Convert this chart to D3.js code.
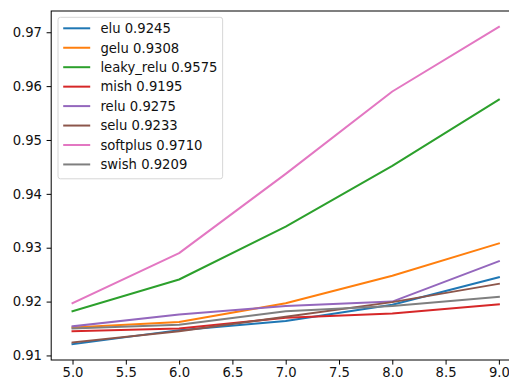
<!DOCTYPE html>
<html>
<head>
<meta charset="utf-8">
<script src="https://cdn.jsdelivr.net/npm/d3@7"></script>
<style>
  html, body { margin: 0; padding: 0; background: #fff; overflow: hidden; }
  svg { display: block; font-family: "DejaVu Sans", sans-serif; }
</style>
</head>
<body>
<svg id="chart" width="509" height="381"></svg>
<script>
// Epoch steps on the x axis
const epochs = [5, 6, 7, 8, 9];

// Accuracy per activation function
const names = ["elu", "gelu", "leaky_relu", "mish", "relu", "selu", "softplus", "swish"];
const elu       = [0.9121, 0.9147, 0.9164, 0.9194, 0.9245];
const gelu      = [0.9152, 0.9162, 0.9197, 0.9248, 0.9308];
const leakyRelu = [0.9182, 0.9241, 0.9339, 0.9452, 0.9575];
const mish      = [0.9145, 0.9150, 0.9170, 0.9178, 0.9195];
const relu      = [0.9154, 0.9176, 0.9192, 0.9200, 0.9275];
const selu      = [0.9124, 0.9145, 0.9172, 0.9199, 0.9233];
const softplus  = [0.9197, 0.9290, 0.9437, 0.9590, 0.9710];
const swish     = [0.9150, 0.9157, 0.9182, 0.9192, 0.9209];

const colors = ["#1f77b4", "#ff7f0e", "#2ca02c", "#d62728", "#9467bd", "#8c564b", "#e377c2", "#7f7f7f"];

// Tick values
const xTicks = [5.0, 5.5, 6.0, 6.5, 7.0, 7.5, 8.0, 8.5, 9.0];
const yTicks = [0.91, 0.92, 0.93, 0.94, 0.95, 0.96, 0.97];

const seriesValues = [elu, gelu, leakyRelu, mish, relu, selu, softplus, swish];
const series = names.map((n, i) => ({
  name: n,
  color: colors[i],
  values: seriesValues[i],
  last: seriesValues[i][seriesValues[i].length - 1]
}));

const svg = d3.select("#chart");
const plot = { left: 51.2, top: 11, width: 469, height: 349 };

// Axis limits padded by 5% of the data span on each side
const xMin = d3.min(epochs), xMax = d3.max(epochs);
const xPad = (xMax - xMin) * 0.05;
const allVals = seriesValues.flat();
const yMin = d3.min(allVals), yMax = d3.max(allVals);
const yPad = (yMax - yMin) * 0.05;

const x = d3.scaleLinear()
  .domain([xMin - xPad, xMax + xPad])
  .range([plot.left, plot.left + plot.width]);
const y = d3.scaleLinear()
  .domain([yMin - yPad, yMax + yPad])
  .range([plot.top + plot.height, plot.top]);

const fontSize = 13.2;

// Axes
const xAxis = svg.append("g")
  .attr("transform", `translate(0,${plot.top + plot.height})`)
  .call(d3.axisBottom(x).tickValues(xTicks).tickFormat(d3.format(".1f"))
    .tickSizeInner(4.6).tickSizeOuter(0).tickPadding(3.2));
const yAxis = svg.append("g")
  .attr("transform", `translate(${plot.left},0)`)
  .call(d3.axisLeft(y).tickValues(yTicks).tickFormat(d3.format(".2f"))
    .tickSizeInner(4.6).tickSizeOuter(0).tickPadding(4.6));

[xAxis, yAxis].forEach(g => {
  g.select(".domain").remove();
  g.selectAll("line").attr("stroke", "#000").attr("stroke-width", 1);
  g.selectAll("text")
    .attr("fill", "#111")
    .style("font-family", "'DejaVu Sans', sans-serif")
    .style("font-size", fontSize + "px");
});

// Lines
const line = d3.line()
  .x((d, i) => x(epochs[i]))
  .y(d => y(d));

svg.append("g")
  .selectAll("path")
  .data(series)
  .join("path")
  .attr("d", d => line(d.values))
  .attr("fill", "none")
  .attr("stroke", d => d.color)
  .attr("stroke-width", 2)
  .attr("stroke-linejoin", "round")
  .attr("stroke-linecap", "square");

// Frame
svg.append("rect")
  .attr("x", plot.left)
  .attr("y", plot.top)
  .attr("width", plot.width)
  .attr("height", plot.height)
  .attr("fill", "none")
  .attr("stroke", "#000")
  .attr("stroke-width", 1);

// Legend
const legend = svg.append("g");
const lgX = plot.left + 6.8, lgY = plot.top + 6.3;
const pad = 5.2, handleLen = 27, handleGap = 10.2, rowH = 19.45, firstRow = 11.0;

const box = legend.append("rect")
  .attr("x", lgX)
  .attr("y", lgY)
  .attr("rx", 2.5)
  .attr("fill", "#fff")
  .attr("fill-opacity", 0.8)
  .attr("stroke", "#d6d6d6")
  .attr("stroke-width", 1);

const rows = legend.selectAll("g.row")
  .data(series)
  .join("g")
  .attr("class", "row")
  .attr("transform", (d, i) => `translate(${lgX + pad},${lgY + firstRow + i * rowH})`);

rows.append("line")
  .attr("x1", 0).attr("x2", handleLen)
  .attr("y1", 0).attr("y2", 0)
  .attr("stroke", d => d.color)
  .attr("stroke-width", 2);

const labels = rows.append("text")
  .attr("x", handleLen + handleGap)
  .attr("y", 0)
  .attr("dy", "0.36em")
  .attr("fill", "#111")
  .style("font-size", fontSize + "px")
  .text(d => `${d.name} ${d.last.toFixed(4)}`);

let maxW = 0;
labels.each(function () { maxW = Math.max(maxW, this.getComputedTextLength()); });
box.attr("width", pad + handleLen + handleGap + maxW + pad)
   .attr("height", 161.5);
</script>
</body>
</html>
